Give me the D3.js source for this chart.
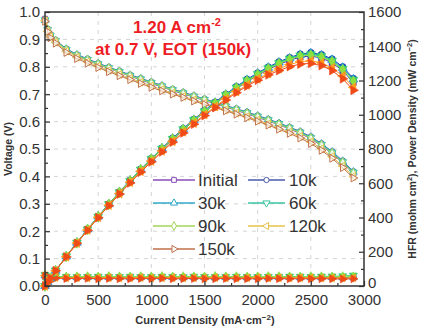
<!DOCTYPE html>
<html>
<head>
<meta charset="utf-8">
<script src="https://d3js.org/d3.v7.min.js"></script>
<style>
  body { margin: 0; background: #fff; }
  svg { font-family: Arial, "Liberation Sans", sans-serif; }
</style>
</head>
<body>
<svg id="chart" width="425" height="330"></svg>
<script>
// current density (mA cm-2) for the polarization data
const current = [0, 25, 50, 100, 200, 300, 400, 500, 600, 700, 800, 900, 1000, 1100, 1200, 1300,
  1400, 1500, 1600, 1700, 1800, 1900, 2000, 2100, 2200, 2300, 2400, 2500, 2600, 2700, 2800, 2900];
// current density for HFR points
const currentHFR = [0, 100, 200, 300, 400, 500, 600, 700, 800, 900, 1000, 1100, 1200, 1300, 1400,
  1500, 1600, 1700, 1800, 1900, 2000, 2100, 2200, 2300, 2400, 2500, 2600, 2700, 2800, 2900];

const seriesNames = ["Initial", "10k", "30k", "60k", "90k", "120k", "150k"];

// voltage (V)
const vInitial = [0.975,0.935,0.915,0.895,0.862,0.840,0.824,0.808,0.794,0.780,0.766,0.752,0.739,0.726,0.713,0.701,0.689,0.677,0.665,0.653,0.641,0.628,0.615,0.602,0.588,0.573,0.557,0.537,0.512,0.483,0.449,0.410];
const v10k = [0.972,0.938,0.918,0.897,0.866,0.845,0.829,0.813,0.799,0.785,0.771,0.758,0.745,0.732,0.719,0.707,0.695,0.683,0.671,0.659,0.647,0.635,0.622,0.609,0.595,0.580,0.564,0.545,0.520,0.491,0.457,0.418];
const v30k = [0.970,0.936,0.916,0.896,0.864,0.843,0.827,0.811,0.797,0.783,0.769,0.756,0.743,0.730,0.717,0.705,0.693,0.681,0.669,0.657,0.645,0.633,0.620,0.607,0.593,0.578,0.562,0.543,0.518,0.489,0.455,0.416];
const v60k = [0.971,0.935,0.915,0.895,0.863,0.842,0.826,0.810,0.796,0.782,0.768,0.755,0.742,0.729,0.716,0.704,0.692,0.680,0.668,0.656,0.644,0.632,0.619,0.606,0.592,0.577,0.561,0.541,0.516,0.487,0.453,0.415];
const v90k = [0.970,0.934,0.914,0.894,0.862,0.841,0.825,0.809,0.795,0.781,0.767,0.754,0.741,0.728,0.715,0.703,0.691,0.679,0.667,0.655,0.643,0.630,0.617,0.604,0.590,0.575,0.559,0.539,0.514,0.485,0.451,0.412];
const v120k = [0.968,0.930,0.910,0.890,0.857,0.835,0.818,0.802,0.787,0.772,0.758,0.744,0.730,0.717,0.704,0.692,0.679,0.667,0.655,0.643,0.631,0.618,0.605,0.591,0.577,0.562,0.546,0.526,0.501,0.472,0.438,0.400];
const v150k = [0.966,0.928,0.906,0.886,0.852,0.830,0.813,0.797,0.782,0.767,0.753,0.739,0.725,0.712,0.700,0.688,0.675,0.663,0.651,0.639,0.627,0.614,0.601,0.587,0.572,0.557,0.540,0.520,0.495,0.466,0.432,0.394];

// power density (mW cm-2)
const pInitial = [0,23,46,90,172,252,330,404,476,546,613,677,739,799,856,911,965,1016,1064,1110,1154,1193,1230,1264,1294,1318,1337,1343,1331,1304,1257,1189];
const p10k = [0,23,46,90,173,254,332,407,479,550,617,682,745,805,863,919,973,1025,1074,1120,1165,1207,1244,1279,1309,1334,1354,1363,1352,1326,1280,1212];
const p30k = [0,23,46,90,173,253,331,406,478,548,615,680,743,803,860,917,970,1022,1070,1117,1161,1203,1240,1275,1305,1329,1349,1358,1347,1320,1274,1206];
const p60k = [0,23,46,90,173,253,330,405,478,547,614,680,742,802,859,915,969,1020,1069,1115,1159,1201,1238,1273,1302,1327,1346,1353,1342,1315,1268,1204];
const p90k = [0,23,46,89,172,252,330,405,477,547,614,679,741,801,858,914,967,1019,1067,1114,1157,1197,1234,1268,1298,1323,1342,1348,1336,1310,1263,1195];
const p120k = [0,23,46,89,171,251,327,401,472,540,606,670,730,789,845,900,951,1001,1048,1093,1136,1174,1210,1241,1269,1293,1310,1315,1303,1274,1226,1160];
const p150k = [0,23,45,89,170,249,325,399,469,537,602,665,725,783,840,894,945,995,1042,1086,1129,1167,1202,1233,1258,1281,1296,1300,1287,1258,1210,1143];

// HFR (mohm cm2)
const hInitial = [58,52,50,49,50,51,49,50,48,50,49,51,50,49,48,50,49,50,48,49,50,48,49,50,48,49,48,50,49,48];
const h10k = [60,53,51,50,50,49,51,50,50,49,50,49,51,50,49,50,50,49,50,48,50,49,50,49,50,48,49,50,49,50];
const h30k = [62,54,52,51,52,50,51,52,50,51,52,50,51,50,52,51,50,51,52,50,51,50,51,52,50,51,52,51,50,52];
const h60k = [66,56,54,53,54,55,53,54,55,53,54,55,54,53,55,54,53,54,55,54,53,55,54,56,55,54,56,57,58,62];
const h90k = [64,55,53,54,55,53,56,54,53,55,54,56,53,55,54,53,56,54,55,53,54,56,55,54,53,55,54,53,55,54];
const h120k = [60,50,48,49,47,48,49,47,48,50,47,48,49,47,48,47,49,48,47,48,49,47,48,47,49,48,47,48,47,48];
const h150k = [58,46,44,43,45,42,44,43,42,44,43,45,42,43,44,42,43,44,42,43,42,44,43,42,43,42,43,42,41,42];

const xTicks = [0, 500, 1000, 1500, 2000, 2500, 3000];
const yLeftTicks = [0, 0.1, 0.2, 0.3, 0.4, 0.5, 0.6, 0.7, 0.8, 0.9, 1.0];
const yRightTicks = [0, 200, 400, 600, 800, 1000, 1200, 1400, 1600];

const voltage = [vInitial, v10k, v30k, v60k, v90k, v120k, v150k];
const power = [pInitial, p10k, p30k, p60k, p90k, p120k, p150k];
const hfr = [hInitial, h10k, h30k, h60k, h90k, h120k, h150k];

const lineColors = ["#8a4cb8", "#4a5aa8", "#2fa8c8", "#38c4a0", "#a4d65a", "#e6c24a", "#c0704a"];
const fillColors = ["#3a2ab8", "#1a3aa8", "#1e90e0", "#30d070", "#8ee040", "#ff9a20", "#f04a18"];
// Origin-like marker sequence: square, circle, up, down, diamond, left, right
const shapes = [
  { t: d3.symbolSquare, r: 0 }, { t: d3.symbolCircle, r: 0 }, { t: d3.symbolTriangle, r: 0 },
  { t: d3.symbolTriangle, r: 180 }, { t: d3.symbolDiamond, r: 0 }, { t: d3.symbolTriangle, r: -90 },
  { t: d3.symbolTriangle, r: 90 }
];

const svg = d3.select("#chart");
const x = d3.scaleLinear().domain([0, 3000]).range([45, 364]);
const yL = d3.scaleLinear().domain([0, 1]).range([286, 12]);
const yR = d3.scaleLinear().domain([0, 1600]).range([286, 12]);

// grid
const grid = svg.append("g").attr("stroke", "#d4d4d4").attr("stroke-dasharray", "4,5").attr("stroke-width", 1);
xTicks.slice(1, -1).forEach(t => grid.append("line")
  .attr("x1", x(t)).attr("x2", x(t)).attr("y1", yL(0)).attr("y2", yL(1)));
yLeftTicks.slice(1, -1).forEach(t => grid.append("line")
  .attr("x1", x(0)).attr("x2", x(3000)).attr("y1", yL(t)).attr("y2", yL(t)));

function marker(i, size) {
  return d3.symbol().type(shapes[i].t).size(size)();
}

// HFR
hfr.forEach((arr, i) => {
  const g = svg.append("g");
  const pts = currentHFR.map((c, k) => [c, arr[k]]);
  g.append("path").datum(pts)
    .attr("fill", "none").attr("stroke", fillColors[i]).attr("stroke-width", 1)
    .attr("d", d3.line().x(d => x(d[0])).y(d => yR(d[1])));
  g.selectAll("path.m").data(pts).join("path").attr("class", "m")
    .attr("d", marker(i, 28))
    .attr("transform", d => `translate(${x(d[0])},${yR(d[1])}) rotate(${shapes[i].r})`)
    .attr("fill", fillColors[i]).attr("stroke", fillColors[i]).attr("stroke-width", 0.6);
});

// voltage curves (open markers)
voltage.forEach((arr, i) => {
  const g = svg.append("g");
  const pts = current.map((c, k) => [c, arr[k]]);
  g.append("path").datum(pts)
    .attr("fill", "none").attr("stroke", lineColors[i]).attr("stroke-width", 1)
    .attr("d", d3.line().x(d => x(d[0])).y(d => yL(d[1])));
  g.selectAll("path.m").data(pts).join("path").attr("class", "m")
    .attr("d", marker(i, 26))
    .attr("transform", d => `translate(${x(d[0])},${yL(d[1])}) rotate(${shapes[i].r})`)
    .attr("fill", "#fff").attr("fill-opacity", 0.6).attr("stroke", lineColors[i]).attr("stroke-width", 1);
});

// power density curves (filled markers)
power.forEach((arr, i) => {
  const g = svg.append("g");
  const pts = current.map((c, k) => [c, arr[k]]);
  g.append("path").datum(pts)
    .attr("fill", "none").attr("stroke", fillColors[i]).attr("stroke-width", 1)
    .attr("d", d3.line().x(d => x(d[0])).y(d => yR(d[1])));
  g.selectAll("path.m").data(pts).join("path").attr("class", "m")
    .attr("d", marker(i, 34))
    .attr("transform", d => `translate(${x(d[0])},${yR(d[1])}) rotate(${shapes[i].r})`)
    .attr("fill", fillColors[i]).attr("stroke", fillColors[i]).attr("stroke-width", 0.6);
});

// axes
function styleAxis(g) {
  g.select(".domain").remove();
  g.selectAll(".tick line").attr("stroke", "#333").attr("stroke-width", 1.2);
  g.selectAll(".tick text").attr("fill", "#333").attr("font-size", 15);
}
svg.append("g").attr("transform", `translate(0,${yL(0)})`)
  .call(d3.axisBottom(x).tickValues(xTicks).tickSize(-5).tickPadding(8).tickFormat(d3.format("d")))
  .call(styleAxis);
svg.append("g").attr("transform", `translate(0,${yL(0)})`)
  .call(d3.axisBottom(x).tickValues(d3.range(250, 3000, 500)).tickSize(-3).tickFormat(""))
  .call(styleAxis);
svg.append("g").attr("transform", `translate(${x(0)},0)`)
  .call(d3.axisLeft(yL).tickValues(yLeftTicks).tickSize(-5).tickPadding(5).tickFormat(d3.format(".1f")))
  .call(styleAxis);
svg.append("g").attr("transform", `translate(${x(0)},0)`)
  .call(d3.axisLeft(yL).tickValues(d3.range(0.05, 1, 0.1)).tickSize(-3).tickFormat(""))
  .call(styleAxis);
const rAxis = svg.append("g").attr("transform", `translate(${x(3000)},0)`)
  .call(d3.axisRight(yR).tickValues(yRightTicks).tickSize(-5).tickPadding(4).tickFormat(d3.format("d")))
  .call(styleAxis);
// lift the right "0" a little so it clears the bottom "3000"
rAxis.selectAll(".tick text").filter(d => d === 0).attr("dy", "0.1em");
svg.append("g").attr("transform", `translate(${x(3000)},0)`)
  .call(d3.axisRight(yR).tickValues(d3.range(100, 1600, 200)).tickSize(-3).tickFormat(""))
  .call(styleAxis);

// frame
svg.append("rect")
  .attr("x", x(0)).attr("y", yL(1)).attr("width", x(3000) - x(0)).attr("height", yL(0) - yL(1))
  .attr("fill", "none").attr("stroke", "#333").attr("stroke-width", 1.5);

// axis titles
svg.append("text").attr("transform", `translate(12,${(yL(0) + yL(1)) / 2}) rotate(-90)`)
  .attr("text-anchor", "middle").attr("font-size", 10.5).attr("font-weight", "bold").attr("fill", "#333")
  .text("Voltage (V)");
const bt = svg.append("text").attr("x", 205).attr("y", 324).attr("text-anchor", "middle")
  .attr("font-size", 11).attr("font-weight", "bold").attr("fill", "#333");
bt.append("tspan").text("Current Density (mA\u00b7cm");
bt.append("tspan").attr("dy", -4).attr("font-size", 8).text("\u22122");
bt.append("tspan").attr("dy", 4).text(")");
const rt = svg.append("text").attr("transform", `translate(416,${(yL(0) + yL(1)) / 2}) rotate(-90)`)
  .attr("text-anchor", "middle").attr("font-size", 10.5).attr("font-weight", "bold").attr("fill", "#333");
rt.append("tspan").text("HFR (mohm cm");
rt.append("tspan").attr("dy", -4).attr("font-size", 7.5).text("2");
rt.append("tspan").attr("dy", 4).text("), Power Density (mW cm");
rt.append("tspan").attr("dy", -4).attr("font-size", 7.5).text("\u22122");
rt.append("tspan").attr("dy", 4).text(")");

// annotation
const a1 = svg.append("text").attr("x", 133).attr("y", 33)
  .attr("font-size", 17).attr("font-weight", "bold").attr("fill", "#ee1c24");
a1.append("tspan").text("1.20 A cm");
a1.append("tspan").attr("dy", -7).attr("font-size", 11).text("-2");
svg.append("text").attr("x", 95).attr("y", 55)
  .attr("font-size", 17).attr("font-weight", "bold").attr("fill", "#ee1c24")
  .text("at 0.7 V, EOT (150k)");

// legend
const legCols = [{ x1: 153, x2: 195, tx: 198 }, { x1: 248, x2: 285, tx: 289 }];
const legRows = [186, 209, 232, 255];
seriesNames.forEach((name, i) => {
  const col = legCols[i % 2];
  const yy = legRows[Math.floor(i / 2)] - 6;
  const g = svg.append("g");
  g.append("line").attr("x1", col.x1).attr("x2", col.x2).attr("y1", yy).attr("y2", yy)
    .attr("stroke", lineColors[i]).attr("stroke-width", 1.5);
  g.append("path").attr("d", marker(i, 22))
    .attr("transform", `translate(${(col.x1 + col.x2) / 2},${yy}) rotate(${shapes[i].r})`)
    .attr("fill", "#fff").attr("stroke", lineColors[i]).attr("stroke-width", 1);
  g.append("text").attr("x", col.tx).attr("y", legRows[Math.floor(i / 2)])
    .attr("font-size", 17).attr("fill", "#333").text(name);
});
</script>
</body>
</html>
